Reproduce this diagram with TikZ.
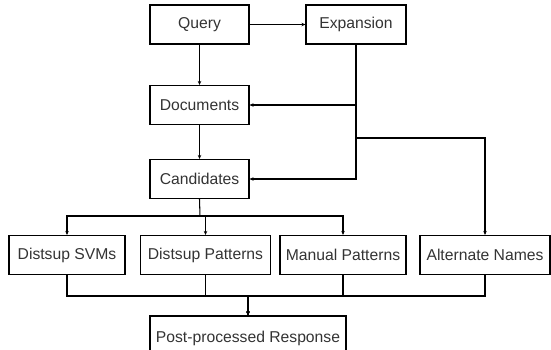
\documentclass[tikz,border=0pt]{standalone}
\usepackage{fontspec}
\setmainfont{Liberation Sans}
\usetikzlibrary{arrows.meta}
\definecolor{txt}{HTML}{333333}
\tikzset{
  box/.style={draw=black, line width=1.1pt, minimum height=39pt, inner sep=0pt,
    text=txt, font=\fontsize{15.7}{18}\selectfont},
  conn/.style={draw=black, line width=1.05pt, -{Stealth[length=4pt,width=3.5pt]}},
  plain/.style={draw=black, line width=1.05pt}
}
\begin{document}
\begin{tikzpicture}[x=1pt,y=-1pt]
\clip (0,0) rectangle (551,349);
\node[box, minimum width=99pt]  (query) at (199.5,24.5) {Query};
\node[box, minimum width=100pt] (exp)   at (356,24.5)   {Expansion};
\node[box, minimum width=99pt]  (docs)  at (199.5,105)  {Documents};
\node[box, minimum width=99pt]  (cand)  at (199.5,179)  {Candidates};
\node[box, minimum width=116pt] (svm)   at (67,255)     {Distsup SVMs};
\node[box, minimum width=130pt] (dpat)  at (205.5,255)  {Distsup Patterns};
\node[box, minimum width=126pt] (mpat)  at (343,255)    {Manual Patterns};
\node[box, minimum width=130pt] (alt)   at (485,255)    {Alternate Names};
\node[box, minimum width=196pt, minimum height=44pt] (post) at (248,338) {Post-processed Response};
\coordinate (br) at (356,138);
\coordinate (bus) at (200,216);
\coordinate (m) at (248,296);
% top
\draw[conn] (query) -- (exp);
\draw[conn] (query) -- (docs);
\draw[conn] (docs) -- (cand);
\draw[conn] (exp.south) |- (docs.east);
\draw[conn] (exp.south) |- (cand.east);
\draw[conn] (br) -| (alt.north);
% candidates fan-out
\draw[plain] (cand.south) -- (bus);
\draw[conn] (bus) -| (svm.north);
\draw[conn] (bus) -| (dpat.north);
\draw[conn] (bus) -| (mpat.north);
% merge
\draw[conn] (svm.south) |- (m) -- (post.north);
\draw[conn] (dpat.south) |- (m) -- (post.north);
\draw[conn] (mpat.south) |- (m) -- (post.north);
\draw[conn] (alt.south) |- (m) -- (post.north);
\end{tikzpicture}
\end{document}
